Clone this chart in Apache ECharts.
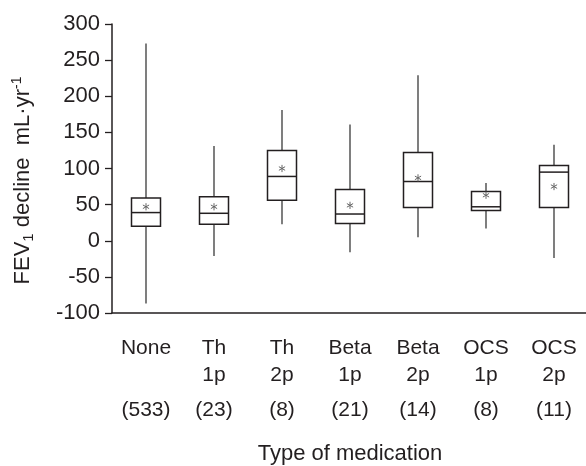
<!DOCTYPE html>
<html>
<head>
<meta charset="utf-8">
<script src="https://cdn.jsdelivr.net/npm/echarts@6/dist/echarts.min.js"></script>
<style>
  html, body { margin: 0; padding: 0; background: #fff; }
  #chart { width: 586px; height: 466px; }
</style>
</head>
<body>
<div id="chart"></div>
<script>
// medication groups (line 1 / line 2 of the label) and group sizes
var groupNames = ['None', 'Th', 'Th', 'Beta', 'Beta', 'OCS', 'OCS'];
var groupDose = ['', '1p', '2p', '1p', '2p', '1p', '2p'];
var groupCounts = [533, 23, 8, 21, 14, 8, 11];

// FEV1 decline, mL/yr
var whiskerLow = [-87, -21, 23, -16, 5, 17, -24];
var quart1 = [20, 23, 56, 24, 46, 42, 46];
var medians = [39, 38, 89, 37, 82, 47, 95];
var quart3 = [59, 61, 125, 71, 122, 68, 104];
var whiskerHigh = [273, 131, 181, 161, 229, 80, 133];
var means = [47, 47, 100, 49, 87, 63, 75];

var yTicks = { min: -100, max: 300, step: 50 };

var categories = groupNames.map(function (n, i) { return (n + ' ' + groupDose[i]).trim(); });
var boxData = categories.map(function (c, i) {
  return [i, whiskerLow[i], quart1[i], medians[i], quart3[i], whiskerHigh[i], means[i]];
});

var FONT = '"Liberation Sans", Arial, sans-serif';
var INK = '#231f20';

function renderBox(params, api) {
  var x = api.value(0);
  var lo = api.coord([x, api.value(1)]);
  var b1 = api.coord([x, api.value(2)]);
  var md = api.coord([x, api.value(3)]);
  var b3 = api.coord([x, api.value(4)]);
  var hi = api.coord([x, api.value(5)]);
  var mn = api.coord([x, api.value(6)]);
  var cx = lo[0];
  var half = 14.5;
  var r = 3.6;
  var kids = [
    { type: 'line', shape: { x1: cx, y1: hi[1], x2: cx, y2: b3[1] }, style: { stroke: '#3a3a3a', lineWidth: 1.3 } },
    { type: 'line', shape: { x1: cx, y1: b1[1], x2: cx, y2: lo[1] }, style: { stroke: '#3a3a3a', lineWidth: 1.3 } },
    { type: 'rect', shape: { x: cx - half, y: b3[1], width: half * 2, height: b1[1] - b3[1] },
      style: { fill: '#fff', stroke: INK, lineWidth: 1.5 } },
    { type: 'line', shape: { x1: cx - half, y1: md[1], x2: cx + half, y2: md[1] }, style: { stroke: INK, lineWidth: 1.5 } }
  ];
  // mean shown as a small asterisk
  [90, 30, -30].forEach(function (deg) {
    var a = deg * Math.PI / 180;
    var dx = r * Math.cos(a), dy = r * Math.sin(a);
    kids.push({ type: 'line', shape: { x1: cx - dx, y1: mn[1] - dy, x2: cx + dx, y2: mn[1] + dy },
      style: { stroke: '#666', lineWidth: 1 } });
  });
  return { type: 'group', children: kids };
}

var myChart = echarts.init(document.getElementById('chart'), null, { renderer: 'canvas' });
var option = {
  backgroundColor: '#fff',
  animation: false,
  grid: { left: 112, top: 24, width: 476, bottom: 153, containLabel: false, outerBoundsMode: 'none' },
  xAxis: {
    type: 'category',
    data: categories,
    boundaryGap: true,
    name: 'Type of medication',
    nameLocation: 'middle',
    nameGap: 130,
    nameTextStyle: { fontFamily: FONT, fontSize: 22, color: INK },
    axisLine: { onZero: false, lineStyle: { color: INK, width: 1.5 } },
    axisTick: { alignWithLabel: true, length: 7, lineStyle: { color: INK, width: 1.3 } },
    axisLabel: {
      interval: 0,
      margin: 22,
      formatter: function (v, i) {
        return '{a|' + groupNames[i] + '}\n{a|' + (groupDose[i] || ' ') + '}\n{c|(' + groupCounts[i] + ')}';
      },
      rich: {
        a: { fontFamily: FONT, fontSize: 21, color: INK, lineHeight: 27 },
        c: { fontFamily: FONT, fontSize: 21, color: INK, lineHeight: 43 }
      }
    },
    splitLine: { show: false }
  },
  yAxis: {
    type: 'value',
    min: yTicks.min,
    max: yTicks.max,
    interval: yTicks.step,
    name: '{m|FEV}{sub|1}{m| decline  mL·yr}{sup|-1}',
    nameLocation: 'middle',
    nameGap: 76,
    nameRotate: 90,
    nameTextStyle: {
      padding: [0, 24, 0, 0],
      rich: {
        m: { fontFamily: FONT, fontSize: 22, color: INK, lineHeight: 26 },
        sub: { fontFamily: FONT, fontSize: 15, color: INK, lineHeight: 22, verticalAlign: 'bottom' },
        sup: { fontFamily: FONT, fontSize: 14, color: INK, lineHeight: 26, verticalAlign: 'top' }
      }
    },
    axisLine: { show: true, lineStyle: { color: INK, width: 1.5 } },
    axisTick: { show: true, length: 7, lineStyle: { color: INK, width: 1.3 } },
    axisLabel: { margin: 12, fontFamily: FONT, fontSize: 22, color: INK },
    splitLine: { show: false }
  },
  series: [{
    type: 'custom',
    renderItem: renderBox,
    encode: { x: 0, y: [1, 2, 3, 4, 5] },
    data: boxData
  }]
};
myChart.setOption(option);
</script>
</body>
</html>
